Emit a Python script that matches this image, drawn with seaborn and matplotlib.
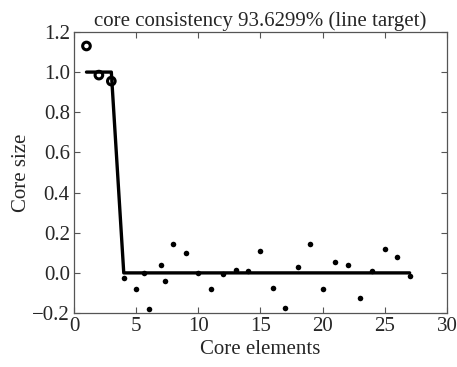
import matplotlib
matplotlib.use("Agg")
import matplotlib.pyplot as plt
import seaborn as sns
import pandas as pd

# Data
target_x = list(range(1, 28))
target_y = [1, 1, 1] + [0] * 24

diag_x = [1, 2, 3]
diag_y = [1.13, 0.985, 0.955]

offdiag_x = [4, 5, 5.6, 6, 7, 7.35, 8, 9, 10, 11, 12, 13, 14, 15, 16, 17, 18,
             19, 20, 21, 22, 23, 24, 25, 26, 27]
offdiag_y = [-0.025, -0.08, 0.0, -0.18, 0.037, -0.04, 0.143, 0.10, 0.0, -0.08,
             -0.005, 0.015, 0.008, 0.11, -0.077, -0.176, 0.028, 0.146, -0.082,
             0.052, 0.04, -0.126, 0.008, 0.12, 0.081, -0.017]

x_ticks = [0, 5, 10, 15, 20, 25, 30]
y_ticks = [-0.2, 0.0, 0.2, 0.4, 0.6, 0.8, 1.0, 1.2]
y_tick_labels = ["\u22120.2", "0.0", "0.2", "0.4", "0.6", "0.8", "1.0", "1.2"]

title = "core consistency 93.6299% (line target)"
xlabel = "Core elements"
ylabel = "Core size"

sns.set_style("ticks")
plt.rcParams["font.family"] = ["Liberation Serif", "DejaVu Serif"]

fig = plt.figure(figsize=(4.57, 3.67), dpi=100)
ax = fig.add_axes([0.162, 0.147, 0.816, 0.766])

df_t = pd.DataFrame({"x": target_x, "y": target_y})
df_d = pd.DataFrame({"x": diag_x, "y": diag_y})
df_o = pd.DataFrame({"x": offdiag_x, "y": offdiag_y})

sns.lineplot(data=df_t, x="x", y="y", ax=ax, color="black", linewidth=2.4,
             sort=False, zorder=2)
sns.scatterplot(data=df_d, x="x", y="y", ax=ax, s=30, facecolor="none",
                edgecolor="black", linewidth=2.2, zorder=3)
sns.scatterplot(data=df_o, x="x", y="y", ax=ax, s=16, color="black",
                edgecolor="black", linewidth=0, zorder=3)

ax.set_xlim(0, 30)
ax.set_ylim(-0.2, 1.2)
ax.set_xticks(x_ticks)
ax.set_yticks(y_ticks)
ax.set_yticklabels(y_tick_labels)
ax.tick_params(direction="in", top=True, right=True, length=4, width=0.8,
               color="#555555", labelsize=15, pad=3)
for s in ax.spines.values():
    s.set_visible(True)
    s.set_color("#555555")
    s.set_linewidth(0.9)

ax.set_title(title, fontsize=15, pad=4)
ax.set_xlabel(xlabel, fontsize=15, labelpad=3)
ax.set_ylabel(ylabel, fontsize=15, labelpad=1)

fig.savefig("out.png", dpi=100, facecolor="white")
